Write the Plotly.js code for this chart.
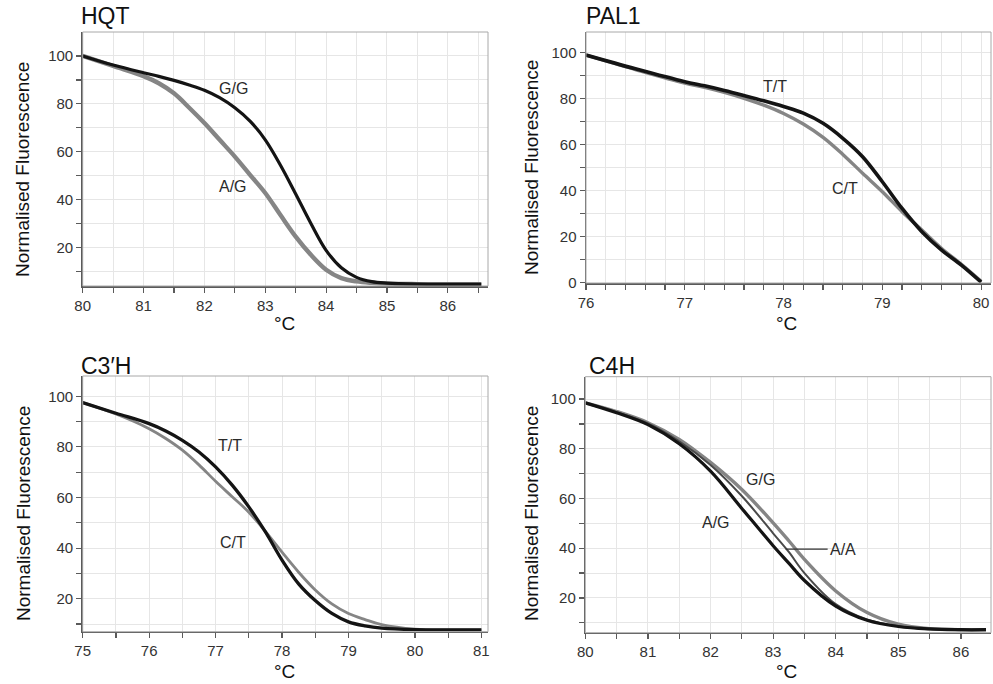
<!DOCTYPE html>
<html>
<head>
<meta charset="utf-8">
<script src="https://cdn.plot.ly/plotly-3.0.1.min.js"></script>
<style>html,body{margin:0;padding:0;background:#fff;}#chart{width:993px;height:684px;}</style>
</head>
<body>
<div id="chart"></div>
<script>
// ---------- DATA ----------
const panelTitles = ["HQT", "PAL1", "C3\u2032H", "C4H"];

// HQT
const hqtTemp = [80, 80.5, 81, 81.25, 81.5, 81.75, 82, 82.25, 82.5, 82.75, 83, 83.25, 83.5, 83.75, 84, 84.25, 84.5, 84.75, 85, 85.5, 86, 86.55];
const hqtGG   = [100, 96.2, 93, 91.5, 89.8, 87.9, 85.7, 82.6, 78.4, 72.8, 65, 54.4, 42.4, 30.1, 18.9, 11.6, 7.6, 5.8, 5.2, 4.8, 4.7, 4.7];
const hqtAG   = [100, 95.8, 91.6, 88.6, 84.4, 78.4, 72, 65, 58, 50.4, 42.8, 33.6, 24.6, 17, 10.8, 7.3, 5.9, 5.3, 5.0, 4.8, 4.7, 4.7];

// PAL1
const palTemp = [76, 76.5, 77, 77.2, 77.4, 77.6, 77.8, 78, 78.2, 78.4, 78.6, 78.8, 79, 79.2, 79.4, 79.6, 79.8, 80];
const palTT   = [99, 93, 87.4, 85.6, 83.6, 81.4, 79.1, 76.6, 73.7, 69.3, 62.8, 54.8, 43.9, 32.3, 22.2, 14.2, 7.7, 0.3];
const palCT   = [99, 92.7, 86.8, 85.0, 82.8, 80.2, 77.2, 73.6, 69.0, 63.2, 55.8, 47.6, 39.6, 30.9, 22.9, 14.9, 8.0, 0.6];

// C3'H
const c3Temp = [75, 75.5, 76, 76.25, 76.5, 76.75, 77, 77.25, 77.5, 77.75, 78, 78.25, 78.5, 78.75, 79, 79.25, 79.5, 80, 80.5, 81];
const c3TT   = [97.5, 93.3, 89.2, 86.3, 82.6, 78, 72.1, 64.9, 56.3, 46.4, 35.3, 25.9, 19.3, 14.2, 10.9, 9.3, 8.4, 7.8, 7.7, 7.7];
const c3CT   = [97.5, 93.0, 87.2, 83.3, 78.7, 72.9, 66.4, 60.3, 54.2, 46.6, 38.4, 30.5, 23.5, 18, 14.2, 11.8, 9.8, 8.0, 7.7, 7.7];

// C4H
const c4Temp = [80, 80.5, 81, 81.5, 82, 82.5, 83, 83.25, 83.5, 84, 84.5, 85, 85.5, 86, 86.4];
const c4AG   = [98.5, 94.5, 89.7, 82, 71, 56, 41, 34, 27, 16.7, 11, 8.5, 7.5, 7.2, 7.2];
const c4AA   = [98.5, 94.7, 90.2, 83, 73.5, 61, 46, 38.5, 30, 17.5, 11.3, 8.6, 7.5, 7.2, 7.2];
const c4GG   = [98.5, 95, 90.5, 83.8, 74.5, 63.6, 50.2, 43, 35.5, 22.8, 14.1, 9.4, 7.6, 7.2, 7.2];

// Tick definitions
const hqtXTicks = [80,80.5,81,81.5,82,82.5,83,83.5,84,84.5,85,85.5,86,86.5];
const palXTicks = [76,76.2,76.4,76.6,76.8,77,77.2,77.4,77.6,77.8,78,78.2,78.4,78.6,78.8,79,79.2,79.4,79.6,79.8,80];
const c3XTicks  = [75,75.5,76,76.5,77,77.5,78,78.5,79,79.5,80,80.5,81];
const c4XTicks  = [80,80.5,81,81.5,82,82.5,83,83.5,84,84.5,85,85.5,86];
const yTicksA   = [10,20,30,40,50,60,70,80,90,100];
const yTicksB   = [0,10,20,30,40,50,60,70,80,90,100];

// ---------- BUILD ----------
const FONT = "Liberation Sans, Arial, Helvetica, sans-serif";
const BLACK = "#141414", GRAY = "#858585", DARKGRAY = "#4a4a4a";

function labelsInt(vals){ return vals.map(v => Number.isInteger(v) ? String(v) : ""); }
function labelsEvery20(vals){ return vals.map(v => v % 20 === 0 ? String(v) : ""); }

function xAxis(domain, range, ticks, anchor){
  return {domain: domain, range: range, tickmode: "array", tickvals: ticks, ticktext: labelsInt(ticks),
    showgrid: true, gridcolor: "#e6e6e6", gridwidth: 1, zeroline: false,
    showline: true, linecolor: "#5a5a5a", linewidth: 1.5, ticks: "outside", ticklen: 5, tickcolor: "#5a5a5a", tickwidth: 1.2,
    tickfont: {family: FONT, size: 15, color: "#333"}, anchor: anchor, fixedrange: true};
}
function yAxis(domain, range, ticks, anchor){
  return {domain: domain, range: range, tickmode: "array", tickvals: ticks, ticktext: labelsEvery20(ticks),
    showgrid: true, gridcolor: "#e6e6e6", gridwidth: 1, zeroline: false,
    showline: true, linecolor: "#5a5a5a", linewidth: 1.5, ticks: "outside", ticklen: 5, tickcolor: "#5a5a5a", tickwidth: 1.2,
    tickfont: {family: FONT, size: 15, color: "#333"}, anchor: anchor, fixedrange: true};
}
function line(x, y, xa, ya, color, width){
  return {x: x, y: y, xaxis: xa, yaxis: ya, type: "scatter", mode: "lines",
    line: {color: color, width: width, shape: "spline", smoothing: 1}, hoverinfo: "skip", showlegend: false};
}

const W = 993, H = 684;
const px = v => v / W, py = v => 1 - v / H;

const traces = [
  line(hqtTemp, hqtAG, "x", "y", GRAY, 4.4),
  line(hqtTemp, hqtGG, "x", "y", BLACK, 3.2),
  line(palTemp, palCT, "x2", "y2", GRAY, 3.4),
  line(palTemp, palTT, "x2", "y2", BLACK, 3.6),
  line(c3Temp, c3CT, "x3", "y3", GRAY, 2.8),
  line(c3Temp, c3TT, "x3", "y3", BLACK, 3.3),
  line(c4Temp, c4GG, "x4", "y4", GRAY, 3.4),
  line(c4Temp, c4AA, "x4", "y4", DARKGRAY, 2),
  line(c4Temp, c4AG, "x4", "y4", BLACK, 3.2)
];

const layout = {
  width: W, height: H, margin: {l: 0, r: 0, t: 0, b: 0},
  paper_bgcolor: "#fff", plot_bgcolor: "#fff", showlegend: false,
  font: {family: FONT, color: "#222"},
  xaxis:  xAxis([px(82.7), px(488)], [80, 86.66], hqtXTicks, "y"),
  yaxis:  yAxis([py(286), py(32)], [4, 110], yTicksA, "x"),
  xaxis2: xAxis([px(586), px(991)], [76, 80.1], palXTicks, "y2"),
  yaxis2: yAxis([py(283), py(32)], [-0.1, 109], yTicksB, "x2"),
  xaxis3: xAxis([px(82.7), px(488)], [75, 81.1], c3XTicks, "y3"),
  yaxis3: yAxis([py(631.7), py(376)], [7, 108], yTicksA, "x3"),
  xaxis4: xAxis([px(585.3), px(991)], [80, 86.48], c4XTicks, "y4"),
  yaxis4: yAxis([py(632.7), py(376.7)], [6, 109], yTicksA, "x4"),
  shapes: [], annotations: []
};

// light frame around each plot
["", "2", "3", "4"].forEach(s => {
  layout.shapes.push({type: "rect", xref: "x" + s + " domain", yref: "y" + s + " domain",
    x0: 0, x1: 1, y0: 0, y1: 1, line: {color: "#a8a8a8", width: 1}, layer: "above"});
});

// panel titles, axis titles
const titlePos = [[79, 16], [584, 16], [79, 366], [587, 366]];
const yTitlePos = [[23, 170], [531, 168], [23, 514], [531, 514]];
const xTitlePos = [[284, 323], [786, 323], [284, 671], [786, 671]];
for (let i = 0; i < 4; i++) {
  layout.annotations.push({text: panelTitles[i], xref: "paper", yref: "paper", x: px(titlePos[i][0]), y: py(titlePos[i][1]),
    xanchor: "left", yanchor: "middle", showarrow: false, font: {family: FONT, size: 23, color: "#111"}});
  layout.annotations.push({text: "Normalised Fluorescence", xref: "paper", yref: "paper", x: px(yTitlePos[i][0]), y: py(yTitlePos[i][1]),
    xanchor: "center", yanchor: "middle", textangle: -90, showarrow: false, font: {family: FONT, size: 19, color: "#111"}});
  layout.annotations.push({text: "\u00B0C", xref: "paper", yref: "paper", x: px(xTitlePos[i][0]), y: py(xTitlePos[i][1]),
    xanchor: "center", yanchor: "middle", showarrow: false, font: {family: FONT, size: 19, color: "#111"}});
}

// curve labels (genotypes)
const LBL = {family: FONT, size: 16, color: "#2a2a2a"};
const curveLabels = [
  ["G/G", 82.47, 86.5, "x", "y"], ["A/G", 82.47, 45.5, "x", "y"],
  ["T/T", 77.91, 85.5, "x2", "y2"], ["C/T", 78.62, 41, "x2", "y2"],
  ["T/T", 77.21, 80.4, "x3", "y3"], ["C/T", 77.26, 42.4, "x3", "y3"],
  ["G/G", 82.8, 67.6, "x4", "y4"], ["A/G", 82.09, 50.2, "x4", "y4"]
];
curveLabels.forEach(l => layout.annotations.push({text: l[0], x: l[1], y: l[2], xref: l[3], yref: l[4],
  showarrow: false, xanchor: "center", yanchor: "middle", font: LBL}));
// A/A with pointer line
layout.annotations.push({text: "A/A", x: 83.2, y: 39.6, xref: "x4", yref: "y4", showarrow: true,
  ax: 42, ay: 0, arrowhead: 0, arrowwidth: 1.2, arrowcolor: "#333", xanchor: "left", font: LBL, standoff: 0, startstandoff: 0});

Plotly.newPlot("chart", traces, layout, {displayModeBar: false, staticPlot: true});
</script>
</body>
</html>
